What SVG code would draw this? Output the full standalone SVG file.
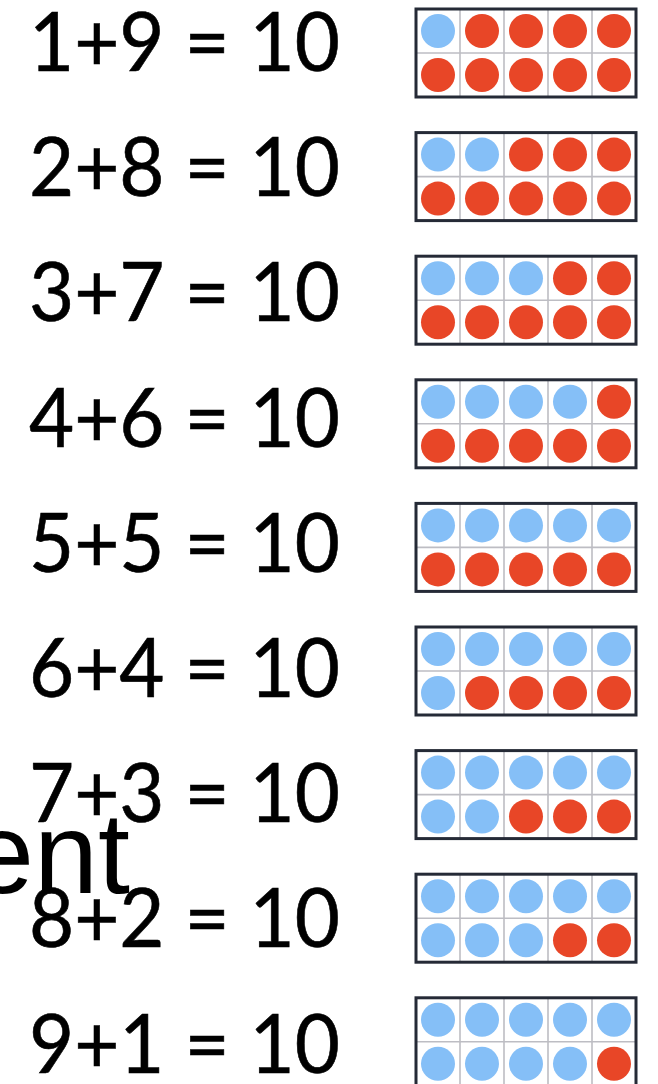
<svg xmlns="http://www.w3.org/2000/svg" xmlns:xlink="http://www.w3.org/1999/xlink" width="658" height="1084" viewBox="0 0 658 1084">
<style>
.eq{font-family:Lato,"Open Sans","Liberation Sans",sans-serif;font-size:81px;fill:#000;stroke:#000;stroke-width:0.6}
.b{fill:#85bff7}
.r{fill:#e84627}
.grid{stroke:#bdbdc3;stroke-width:1.6;fill:none}
.box{stroke:#252a36;stroke-width:3;fill:none}
.stray{font-family:"Liberation Sans",Arial,sans-serif;font-size:115px;fill:#000}
</style>
<defs>
<g id="frame">
<rect x="416" y="0" width="220" height="88" fill="#fff"/>
<path class="grid" d="M460 0V88M504 0V88M548 0V88M592 0V88M416 44H636"/>
<rect class="box" x="416" y="0" width="220" height="88"/>
</g>
</defs>
<rect width="658" height="1084" fill="#fff"/>
<g id="row1"><text class="eq" x="29" y="71" textLength="311" lengthAdjust="spacingAndGlyphs">1+9 = 10</text>
<g transform="translate(0,9)"><use xlink:href="#frame"/>
<circle class="b" cx="438" cy="22" r="17"/><circle class="r" cx="482" cy="22" r="17"/><circle class="r" cx="526" cy="22" r="17"/><circle class="r" cx="570" cy="22" r="17"/><circle class="r" cx="614" cy="22" r="17"/>
<circle class="r" cx="438" cy="66" r="17"/><circle class="r" cx="482" cy="66" r="17"/><circle class="r" cx="526" cy="66" r="17"/><circle class="r" cx="570" cy="66" r="17"/><circle class="r" cx="614" cy="66" r="17"/></g></g>
<g id="row2"><text class="eq" x="29" y="196.2" textLength="311" lengthAdjust="spacingAndGlyphs">2+8 = 10</text>
<g transform="translate(0,132.6)"><use xlink:href="#frame"/>
<circle class="b" cx="438" cy="22" r="17"/><circle class="b" cx="482" cy="22" r="17"/><circle class="r" cx="526" cy="22" r="17"/><circle class="r" cx="570" cy="22" r="17"/><circle class="r" cx="614" cy="22" r="17"/>
<circle class="r" cx="438" cy="66" r="17"/><circle class="r" cx="482" cy="66" r="17"/><circle class="r" cx="526" cy="66" r="17"/><circle class="r" cx="570" cy="66" r="17"/><circle class="r" cx="614" cy="66" r="17"/></g></g>
<g id="row3"><text class="eq" x="29" y="321.4" textLength="311" lengthAdjust="spacingAndGlyphs">3+7 = 10</text>
<g transform="translate(0,256.2)"><use xlink:href="#frame"/>
<circle class="b" cx="438" cy="22" r="17"/><circle class="b" cx="482" cy="22" r="17"/><circle class="b" cx="526" cy="22" r="17"/><circle class="r" cx="570" cy="22" r="17"/><circle class="r" cx="614" cy="22" r="17"/>
<circle class="r" cx="438" cy="66" r="17"/><circle class="r" cx="482" cy="66" r="17"/><circle class="r" cx="526" cy="66" r="17"/><circle class="r" cx="570" cy="66" r="17"/><circle class="r" cx="614" cy="66" r="17"/></g></g>
<g id="row4"><text class="eq" x="29" y="446.6" textLength="311" lengthAdjust="spacingAndGlyphs">4+6 = 10</text>
<g transform="translate(0,379.8)"><use xlink:href="#frame"/>
<circle class="b" cx="438" cy="22" r="17"/><circle class="b" cx="482" cy="22" r="17"/><circle class="b" cx="526" cy="22" r="17"/><circle class="b" cx="570" cy="22" r="17"/><circle class="r" cx="614" cy="22" r="17"/>
<circle class="r" cx="438" cy="66" r="17"/><circle class="r" cx="482" cy="66" r="17"/><circle class="r" cx="526" cy="66" r="17"/><circle class="r" cx="570" cy="66" r="17"/><circle class="r" cx="614" cy="66" r="17"/></g></g>
<g id="row5"><text class="eq" x="29" y="571.8" textLength="311" lengthAdjust="spacingAndGlyphs">5+5 = 10</text>
<g transform="translate(0,503.4)"><use xlink:href="#frame"/>
<circle class="b" cx="438" cy="22" r="17"/><circle class="b" cx="482" cy="22" r="17"/><circle class="b" cx="526" cy="22" r="17"/><circle class="b" cx="570" cy="22" r="17"/><circle class="b" cx="614" cy="22" r="17"/>
<circle class="r" cx="438" cy="66" r="17"/><circle class="r" cx="482" cy="66" r="17"/><circle class="r" cx="526" cy="66" r="17"/><circle class="r" cx="570" cy="66" r="17"/><circle class="r" cx="614" cy="66" r="17"/></g></g>
<g id="row6"><text class="eq" x="29" y="697" textLength="311" lengthAdjust="spacingAndGlyphs">6+4 = 10</text>
<g transform="translate(0,627)"><use xlink:href="#frame"/>
<circle class="b" cx="438" cy="22" r="17"/><circle class="b" cx="482" cy="22" r="17"/><circle class="b" cx="526" cy="22" r="17"/><circle class="b" cx="570" cy="22" r="17"/><circle class="b" cx="614" cy="22" r="17"/>
<circle class="b" cx="438" cy="66" r="17"/><circle class="r" cx="482" cy="66" r="17"/><circle class="r" cx="526" cy="66" r="17"/><circle class="r" cx="570" cy="66" r="17"/><circle class="r" cx="614" cy="66" r="17"/></g></g>
<g id="row7"><text class="eq" x="29" y="822.2" textLength="311" lengthAdjust="spacingAndGlyphs">7+3 = 10</text>
<g transform="translate(0,750.6)"><use xlink:href="#frame"/>
<circle class="b" cx="438" cy="22" r="17"/><circle class="b" cx="482" cy="22" r="17"/><circle class="b" cx="526" cy="22" r="17"/><circle class="b" cx="570" cy="22" r="17"/><circle class="b" cx="614" cy="22" r="17"/>
<circle class="b" cx="438" cy="66" r="17"/><circle class="b" cx="482" cy="66" r="17"/><circle class="r" cx="526" cy="66" r="17"/><circle class="r" cx="570" cy="66" r="17"/><circle class="r" cx="614" cy="66" r="17"/></g></g>
<g id="row8"><text class="eq" x="29" y="947.4" textLength="311" lengthAdjust="spacingAndGlyphs">8+2 = 10</text>
<g transform="translate(0,874.2)"><use xlink:href="#frame"/>
<circle class="b" cx="438" cy="22" r="17"/><circle class="b" cx="482" cy="22" r="17"/><circle class="b" cx="526" cy="22" r="17"/><circle class="b" cx="570" cy="22" r="17"/><circle class="b" cx="614" cy="22" r="17"/>
<circle class="b" cx="438" cy="66" r="17"/><circle class="b" cx="482" cy="66" r="17"/><circle class="b" cx="526" cy="66" r="17"/><circle class="r" cx="570" cy="66" r="17"/><circle class="r" cx="614" cy="66" r="17"/></g></g>
<g id="row9"><text class="eq" x="29" y="1072.6" textLength="311" lengthAdjust="spacingAndGlyphs">9+1 = 10</text>
<g transform="translate(0,997.8)"><use xlink:href="#frame"/>
<circle class="b" cx="438" cy="22" r="17"/><circle class="b" cx="482" cy="22" r="17"/><circle class="b" cx="526" cy="22" r="17"/><circle class="b" cx="570" cy="22" r="17"/><circle class="b" cx="614" cy="22" r="17"/>
<circle class="b" cx="438" cy="66" r="17"/><circle class="b" cx="482" cy="66" r="17"/><circle class="b" cx="526" cy="66" r="17"/><circle class="b" cx="570" cy="66" r="17"/><circle class="r" cx="614" cy="66" r="17"/></g></g>
<text id="stray" class="stray" x="-30" y="893">ent</text>
</svg>
